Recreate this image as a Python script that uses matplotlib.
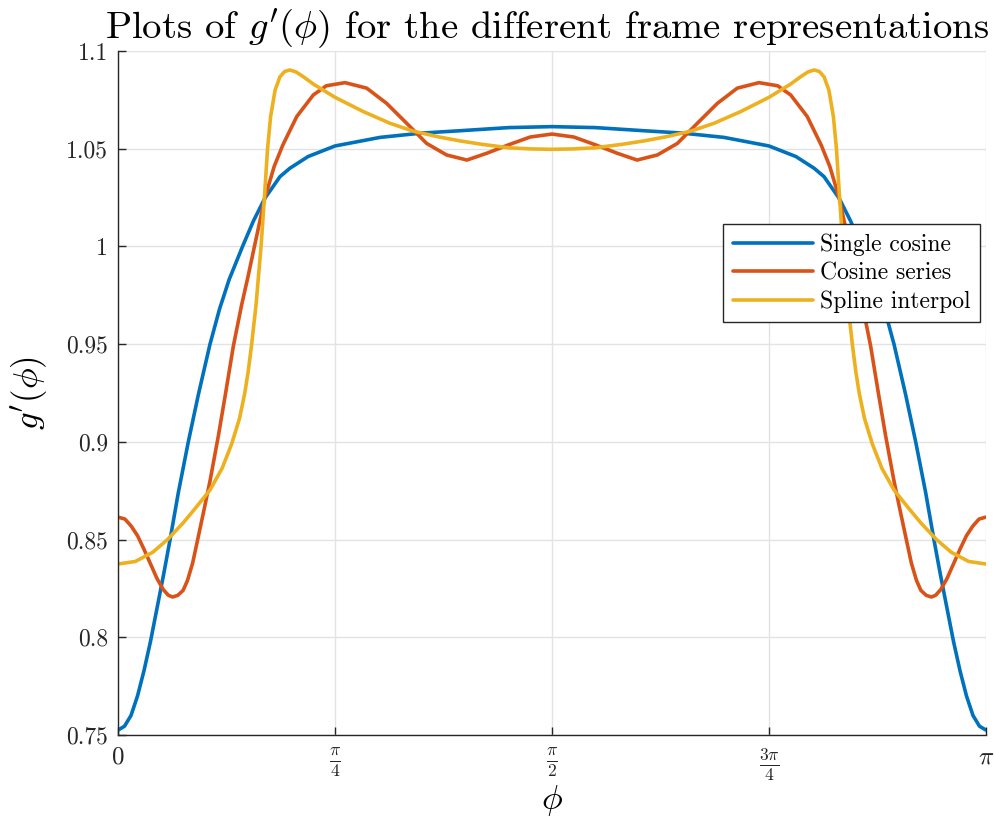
import numpy as np
import matplotlib
matplotlib.use("Agg")
import matplotlib.pyplot as plt

plt.rcParams['font.family'] = 'serif'
plt.rcParams['font.serif'] = ['cmr10']
plt.rcParams['mathtext.fontset'] = 'cm'
plt.rcParams['axes.unicode_minus'] = False

# phi given as fraction of pi
t_single = [0.000, 0.0075, 0.015, 0.0225, 0.030, 0.0375, 0.045, 0.0525, 0.060, 0.0695,
            0.081, 0.0925, 0.106, 0.117, 0.128, 0.1435, 0.156, 0.169, 0.1866, 0.198,
            0.219, 0.250, 0.302, 0.350, 0.394, 0.450, 0.500,
            0.550, 0.606, 0.650, 0.698, 0.750, 0.781, 0.802, 0.8134, 0.831, 0.844,
            0.8565, 0.872, 0.883, 0.894, 0.9075, 0.919, 0.9305, 0.940, 0.9475, 0.955,
            0.9625, 0.970, 0.9775, 0.985, 0.9925, 1.000]
g_single = [0.7525, 0.7545, 0.760, 0.770, 0.783, 0.798, 0.815, 0.832, 0.850, 0.874,
            0.900, 0.924, 0.950, 0.968, 0.983, 1.000, 1.013, 1.0245, 1.0357, 1.040,
            1.046, 1.0514, 1.0558, 1.058, 1.0592, 1.0608, 1.0613,
            1.0608, 1.0592, 1.058, 1.0558, 1.0514, 1.046, 1.040, 1.0357, 1.0245, 1.013,
            1.000, 0.983, 0.968, 0.950, 0.924, 0.900, 0.874, 0.850, 0.832, 0.815,
            0.798, 0.783, 0.770, 0.760, 0.7545, 0.7525]

t_series = [0.000, 0.008, 0.015, 0.0225, 0.030, 0.0375, 0.045, 0.052, 0.058, 0.063,
            0.069, 0.075, 0.080, 0.086, 0.0918, 0.099, 0.106, 0.1156, 0.124, 0.1329,
            0.1424, 0.150, 0.1567, 0.169, 0.180, 0.190, 0.206, 0.225, 0.240, 0.2615,
            0.2865, 0.3095, 0.3326, 0.3556, 0.3786, 0.402, 0.425, 0.450, 0.475, 0.500,
            0.525, 0.550, 0.575, 0.598, 0.6214, 0.6444, 0.6674, 0.6905, 0.7135, 0.7385,
            0.760, 0.775, 0.794, 0.810, 0.820, 0.831, 0.8433, 0.850, 0.8576, 0.8671,
            0.876, 0.8844, 0.894, 0.901, 0.9082, 0.914, 0.920, 0.925, 0.931, 0.937,
            0.942, 0.948, 0.955, 0.9625, 0.970, 0.9775, 0.985, 0.992, 1.000]
g_series = [0.8615, 0.8605, 0.857, 0.852, 0.845, 0.8375, 0.830, 0.8245, 0.8215, 0.8206,
            0.8215, 0.824, 0.829, 0.838, 0.850, 0.865, 0.880, 0.903, 0.925, 0.949,
            0.970, 0.985, 0.999, 1.0245, 1.041, 1.052, 1.0665, 1.0775, 1.0822, 1.0838,
            1.081, 1.0732, 1.063, 1.0527, 1.0468, 1.0442, 1.0477, 1.052, 1.056, 1.0575,
            1.056, 1.052, 1.0477, 1.0442, 1.0468, 1.0527, 1.063, 1.0732, 1.081, 1.0838,
            1.0822, 1.0775, 1.0665, 1.052, 1.041, 1.0245, 0.999, 0.985, 0.970, 0.949,
            0.925, 0.903, 0.880, 0.865, 0.850, 0.838, 0.829, 0.824, 0.8215, 0.8206,
            0.8215, 0.8245, 0.830, 0.8375, 0.845, 0.852, 0.857, 0.8605, 0.8615]

t_spline = [0.000, 0.020, 0.040, 0.057, 0.075, 0.090, 0.106, 0.120, 0.131, 0.140,
            0.146, 0.150, 0.154, 0.157, 0.159, 0.1648, 0.1685, 0.1723, 0.1758, 0.181,
            0.1866, 0.192, 0.198, 0.205, 0.213, 0.225, 0.250, 0.2826, 0.3134, 0.340,
            0.370, 0.394, 0.420, 0.450, 0.475, 0.500,
            0.525, 0.550, 0.580, 0.606, 0.630, 0.660, 0.6866, 0.7174, 0.750, 0.775,
            0.787, 0.795, 0.802, 0.808, 0.8134, 0.819, 0.8242, 0.8277, 0.8315, 0.8352,
            0.841, 0.843, 0.846, 0.850, 0.854, 0.860, 0.869, 0.880, 0.894, 0.910,
            0.925, 0.943, 0.960, 0.980, 1.000]
g_spline = [0.8375, 0.8388, 0.8435, 0.850, 0.8585, 0.8665, 0.8754, 0.8865, 0.899, 0.912,
            0.9248, 0.936, 0.950, 0.962, 0.970, 1.000, 1.0238, 1.050, 1.0664, 1.080,
            1.0868, 1.0895, 1.0903, 1.0893, 1.087, 1.0831, 1.0763, 1.069, 1.063, 1.059,
            1.056, 1.054, 1.0522, 1.0505, 1.0499, 1.0497,
            1.0499, 1.0505, 1.0522, 1.054, 1.056, 1.059, 1.063, 1.069, 1.0763, 1.0831,
            1.087, 1.0893, 1.0903, 1.0895, 1.0868, 1.080, 1.0664, 1.050, 1.0238, 1.000,
            0.970, 0.962, 0.950, 0.936, 0.9248, 0.912, 0.899, 0.8865, 0.8754, 0.8665,
            0.8585, 0.850, 0.8435, 0.8388, 0.8375]

labels = ['Single cosine', 'Cosine series', 'Spline interpol']
colors = ['#0072BD', '#D95319', '#EDB120']

ytick_vals = [0.75, 0.8, 0.85, 0.9, 0.95, 1.0, 1.05, 1.1]
ytick_labels = ['0.75', '0.8', '0.85', '0.9', '0.95', '1', '1.05', '1.1']
xtick_vals = [0, np.pi/4, np.pi/2, 3*np.pi/4, np.pi]
xtick_labels = [r'$0$', r'$\frac{\pi}{4}$', r'$\frac{\pi}{2}$', r'$\frac{3\pi}{4}$', r'$\pi$']

fig = plt.figure(figsize=(9.95, 8.23), dpi=100)
ax = fig.add_axes([118/995, 88/823, 868/995, 684/823])

for t, g, lab, c in zip([t_single, t_series, t_spline],
                        [g_single, g_series, g_spline], labels, colors):
    ax.plot(np.array(t)*np.pi, g, color=c, lw=2.6, label=lab,
            solid_capstyle='round', solid_joinstyle='round')

ax.set_xlim(0, np.pi)
ax.set_ylim(0.75, 1.1)
ax.set_xticks(xtick_vals)
ax.set_xticklabels(xtick_labels, fontsize=18)
ax.set_yticks(ytick_vals)
ax.set_yticklabels(ytick_labels, fontsize=17)
ax.grid(True, color='#e3e3e3', lw=1)
ax.set_axisbelow(True)
for s in ['top', 'right']:
    ax.spines[s].set_visible(False)
for s in ['left', 'bottom']:
    ax.spines[s].set_color('#262626')
    ax.spines[s].set_linewidth(1.0)
ax.tick_params(direction='in', length=6, width=1, color='#262626', labelcolor='#262626')
ax.tick_params(axis='y', pad=7)
ax.tick_params(axis='x', pad=8)

ax.set_title(r"Plots of $g'(\phi)$ for the different frame representations",
             fontsize=27.8, pad=4, x=0.494)
ax.set_xlabel(r'$\phi$', fontsize=25, labelpad=0)
ax.set_ylabel(r"$g'(\phi)$", fontsize=25, labelpad=12)

leg = ax.legend(loc='upper right', bbox_to_anchor=(0.993, 0.747), fontsize=17,
                fancybox=False, framealpha=1, edgecolor='#262626',
                handlelength=3.4, borderpad=0.4, labelspacing=0.26, handletextpad=0.3,
                borderaxespad=0)
leg.get_frame().set_linewidth(1.0)

fig.savefig('out.png', dpi=100)
